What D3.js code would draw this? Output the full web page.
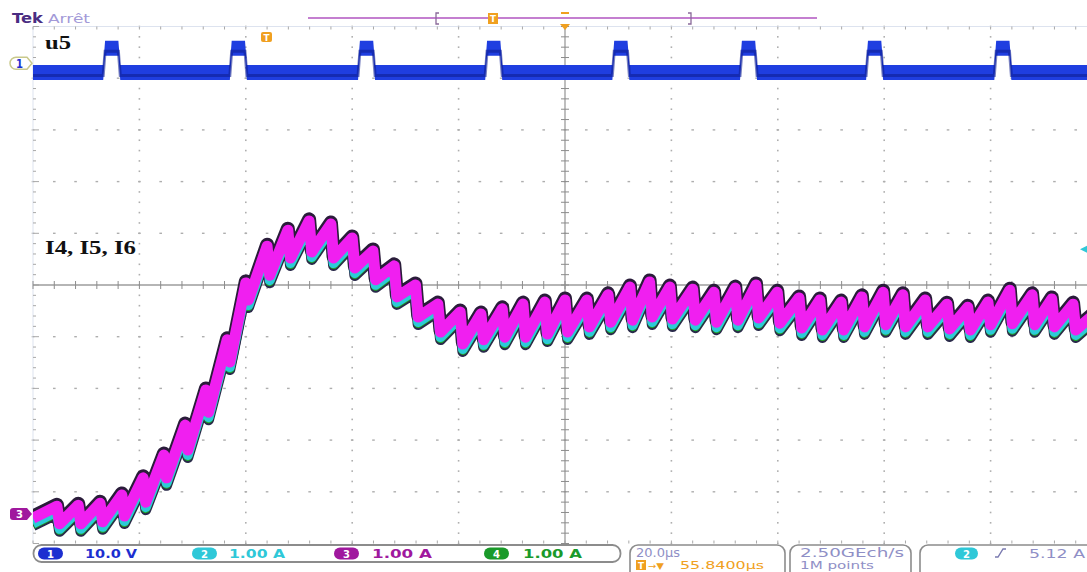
<!DOCTYPE html>
<html>
<head>
<meta charset="utf-8">
<script src="https://cdn.jsdelivr.net/npm/d3@7"></script>
<style>
html, body { margin: 0; padding: 0; background: #fff; overflow: hidden; }
</style>
</head>
<body>
<svg id="scope" width="1087" height="572"></svg>
<script>
// time axis, µs from the left edge of the screen (20 µs/div)
const timeTicks = [0, 20, 40, 60, 80, 100, 120, 140, 160, 180, 200]

// u5 (channel 1, 10 V/div): rising edges and widths of the pulses, µs
const pulseStart = [13.2, 37.0, 61.1, 85.0, 108.9, 132.9, 156.6, 180.7]
const pulseWidth = [3.2, 3.2, 3.2, 3.2, 3.2, 3.2, 3.2, 3.2]
const u5Levels = [-1.8, 2.9]   // low, high in V

// I4, I5, I6 (1 A/div): instant of each drop, value just before and just after
const toothT = [4.5, 8.5, 12.6, 16.7, 20.7, 24.6, 28.6, 32.5, 36.5, 40.0,
    44.0, 47.9, 51.9, 56.0, 60.0, 63.9, 67.9, 71.9, 76.1, 80.3,
    84.2, 88.2, 92.1, 96.2, 100.0, 104.1, 108.1, 112.2, 115.9, 119.7,
    124.0, 128.0, 132.0, 135.9, 139.9, 144.0, 147.9, 151.9, 155.8, 159.8,
    163.5, 167.7, 171.8, 175.7, 179.5, 183.6, 187.8, 191.5, 195.5]
const peakA = [0.15, 0.17, 0.21, 0.37, 0.70, 1.14, 1.72, 2.40, 3.37, 4.47,
    5.18, 5.49, 5.67, 5.61, 5.34, 5.09, 4.80, 4.43, 4.06, 3.91,
    3.87, 3.97, 4.06, 4.10, 4.14, 4.14, 4.24, 4.39, 4.49, 4.39,
    4.35, 4.29, 4.37, 4.43, 4.29, 4.18, 4.14, 4.10, 4.20, 4.29,
    4.24, 4.14, 4.06, 4.00, 4.10, 4.33, 4.24, 4.16, 4.06]
const troughA = [-0.19, -0.19, -0.15, -0.04, 0.23, 0.70, 1.24, 1.97, 2.94, 4.14,
    4.62, 4.95, 5.07, 4.95, 4.76, 4.53, 4.20, 3.81, 3.52, 3.29,
    3.37, 3.42, 3.42, 3.48, 3.52, 3.62, 3.71, 3.75, 3.81, 3.77,
    3.75, 3.71, 3.75, 3.79, 3.69, 3.60, 3.56, 3.56, 3.62, 3.66,
    3.62, 3.62, 3.58, 3.56, 3.66, 3.68, 3.66, 3.62, 3.56]
const iEnds = [-0.08, 3.91]    // value at t = 0 and t = 200

// readouts
const chanIds = ['1', '2', '3', '4']
const chanScale = ['10.0 V', '1.00 A', '1.00 A', '1.00 A']
const timeBase = '20.0\u00b5s'
const trigDelay = '55.8400\u00b5s'
const sampleRate = '2.50GEch/s'
const recordLen = '1M points'
const trigLevel = '5.12 A'

const chanColor = ['#1c2fd0', '#2fc8d8', '#a0189e', '#1a9a2a']

const svg = d3.select('#scope')

const x = d3.scaleLinear().domain([0, 200]).range([33, 1097])
const yDiv = d3.scaleLinear().domain([-5, 5]).range([543.5, 26.5])
const yU = v => yDiv(4.29 + v / 10)      // ch1 ground 4.29 div up
const yI = a => yDiv(-4.43 + a / 1.0)    // ch2..4 ground 4.43 div down

const label = (g, str, px, py, size, fill, len, o = {}) => g.append('text')
    .text(str)
    .attr('x', px)
    .attr('y', py)
    .attr('font-size', size)
    .attr('fill', fill)
    .attr('font-family', o.family || 'DejaVu Sans')
    .attr('font-weight', o.weight || 'normal')
    .attr('textLength', len)
    .attr('lengthAdjust', 'spacingAndGlyphs')

svg.append('defs').append('clipPath').attr('id', 'screen')
    .append('rect').attr('x', 33).attr('y', 20).attr('width', 1054).attr('height', 530)

//graticule
const grid = svg.append('g').attr('class', 'grid')
const minorT = d3.range(0, 200.01, 4)
const minorV = d3.range(-5, 5.001, 0.2)

timeTicks.slice(1, -1).filter(t => t !== 100).forEach(t => {
    grid.selectAll(null).data(minorV).enter().append('rect')
        .attr('x', x(t) - 0.8).attr('y', d => yDiv(d) - 0.8)
        .attr('width', 1.6).attr('height', 1.6).attr('fill', '#aeaeae')
})
d3.range(-4, 5).filter(v => v !== 0).forEach(v => {
    grid.selectAll(null).data(minorT).enter().append('rect')
        .attr('x', d => x(d) - 1.3).attr('y', yDiv(v) - 0.7)
        .attr('width', 2.6).attr('height', 1.4).attr('fill', '#aeaeae')
})
// screen edges
grid.append('line').attr('x1', 33).attr('x2', 33).attr('y1', yDiv(5)).attr('y2', yDiv(-5))
    .attr('stroke', '#dde3ef').attr('stroke-width', 1)
grid.append('line').attr('x1', 33).attr('x2', 1087).attr('y1', yDiv(5)).attr('y2', yDiv(5))
    .attr('stroke', '#dde3ef').attr('stroke-width', 1)
grid.selectAll(null).data(minorV).enter().append('line')
    .attr('x1', 33).attr('x2', d => (Math.abs(d % 1) < 0.01 ? 39 : 36))
    .attr('y1', d => yDiv(d)).attr('y2', d => yDiv(d))
    .attr('stroke', '#a8a8a8').attr('stroke-width', 1)
grid.selectAll(null).data(minorT).enter().append('line')
    .attr('x1', d => x(d)).attr('x2', d => x(d))
    .attr('y1', yDiv(5)).attr('y2', yDiv(5) + 3)
    .attr('stroke', '#a8a8a8').attr('stroke-width', 1)
grid.selectAll(null).data(minorT).enter().append('line')
    .attr('x1', d => x(d)).attr('x2', d => x(d))
    .attr('y1', yDiv(-5)).attr('y2', yDiv(-5) - 3)
    .attr('stroke', '#a8a8a8').attr('stroke-width', 1)
// centre cross
grid.append('line').attr('x1', 33).attr('x2', 1087).attr('y1', yDiv(0)).attr('y2', yDiv(0))
    .attr('stroke', '#9c9c9c').attr('stroke-width', 1.3)
grid.append('line').attr('x1', x(100)).attr('x2', x(100)).attr('y1', yDiv(5)).attr('y2', yDiv(-5))
    .attr('stroke', '#9c9c9c').attr('stroke-width', 1.3)
grid.selectAll(null).data(minorT).enter().append('line')
    .attr('x1', d => x(d)).attr('x2', d => x(d))
    .attr('y1', yDiv(0) - 4).attr('y2', yDiv(0) + 4)
    .attr('stroke', '#8c8c8c').attr('stroke-width', 1)
grid.selectAll(null).data(minorV).enter().append('line')
    .attr('x1', x(100) - 4).attr('x2', x(100) + 4)
    .attr('y1', d => yDiv(d)).attr('y2', d => yDiv(d))
    .attr('stroke', '#8c8c8c').attr('stroke-width', 1)

//traces
const traces = svg.append('g').attr('clip-path', 'url(#screen)')

// u5
const uPts = [[0, u5Levels[0]]]
pulseStart.forEach((s, i) => {
    uPts.push([s, u5Levels[0]], [s + 0.35, u5Levels[1]],
        [s + pulseWidth[i] - 0.35, u5Levels[1]], [s + pulseWidth[i], u5Levels[0]])
})
uPts.push([200, u5Levels[0]])
traces.append('path')
    .attr('d', d3.area().x(d => x(d[0])).y0(d => yU(d[1]) + 7.5).y1(d => yU(d[1]) - 7.5)(uPts))
    .attr('fill', '#1f3ee0')
traces.append('path')
    .attr('d', d3.line().x(d => x(d[0])).y(d => yU(d[1]) + 3)(uPts))
    .attr('fill', 'none').attr('stroke', '#0d1b8c').attr('stroke-width', 3).attr('opacity', 0.55)

// I4, I5, I6
const iPts = [[0, iEnds[0]]]
toothT.forEach((t, i) => {
    iPts.push([t, peakA[i]], [t + 0.5, troughA[i]])
})
iPts.push([200, iEnds[1]])
const iLine = d3.line().x(d => x(d[0])).y(d => yI(d[1]))
const layers = [
    {color: '#2a1c3a', w: 14, dy: -1.5},
    {color: '#2a2a4a', w: 11, dy: 7.5},
    {color: '#1fa52a', w: 9, dy: 6.5},
    {color: '#2ccad8', w: 10, dy: 5},
    {color: '#f01ff0', w: 11, dy: 0}
]
layers.forEach(l => {
    traces.append('path')
        .attr('d', iLine(iPts))
        .attr('transform', `translate(0,${l.dy})`)
        .attr('fill', 'none')
        .attr('stroke', l.color)
        .attr('stroke-width', l.w)
        .attr('stroke-linejoin', 'round')
})

//trace labels
label(svg, 'u5', 45, 49, 18, '#111', 26, {family: 'Liberation Serif', weight: 'bold'})
label(svg, 'I4, I5, I6', 45, 254, 18, '#111', 91, {family: 'Liberation Serif', weight: 'bold'})

//channel markers
const m1 = svg.append('g').attr('transform', `translate(11,${yU(0)})`)
m1.append('path').attr('d', 'M5,-6 H16 L21,0 L16,6 H5 A6,6 0 0 1 5,-6 Z')
    .attr('fill', '#fff').attr('stroke', '#c9c98c').attr('stroke-width', 1.5)
label(m1, '1', 5, 4.5, 12, chanColor[0], 7, {weight: 'bold'})
const m3 = svg.append('g').attr('transform', `translate(10,${yI(0)})`)
m3.append('path').attr('d', 'M3,-6 H17 L22,0 L17,6 H3 A3,3 0 0 1 0,3 V-3 A3,3 0 0 1 3,-6 Z')
    .attr('fill', chanColor[2])
label(m3, '3', 6, 4, 10, '#fff', 7, {weight: 'bold'})
// trigger level (ch2)
svg.append('path')
    .attr('transform', `translate(1080,${yI(5.12)})`)
    .attr('d', 'M0,0 L8,-4 L8,4 Z').attr('fill', chanColor[1])
// orange trigger point in record
const tMark = svg.append('g').attr('transform', 'translate(261,32)')
tMark.append('rect').attr('width', 11).attr('height', 10).attr('rx', 2).attr('fill', '#f0a020')
label(tMark, 'T', 2.5, 8.5, 9, '#fff', 6, {weight: 'bold'})

//top bar
label(svg, 'Tek', 12, 23, 14, '#4a2d82', 31, {weight: 'bold'})
label(svg, 'Arr\u00eat', 48, 23, 13, '#a39ad8', 42)
svg.append('line').attr('x1', 308).attr('x2', 817).attr('y1', 18).attr('y2', 18)
    .attr('stroke', '#c47fd0').attr('stroke-width', 2)
svg.append('path').attr('d', 'M439,13 H436 V24 H439').attr('fill', 'none')
    .attr('stroke', '#8a6a9a').attr('stroke-width', 1.3)
svg.append('path').attr('d', 'M688,13 H691 V24 H688').attr('fill', 'none')
    .attr('stroke', '#8a6a9a').attr('stroke-width', 1.3)
svg.append('rect').attr('x', 488).attr('y', 13).attr('width', 10).attr('height', 11)
    .attr('fill', '#f0a020')
label(svg, 'T', 490, 22, 9, '#fff', 6, {weight: 'bold'})
svg.append('rect').attr('x', 561).attr('y', 12).attr('width', 8).attr('height', 2).attr('fill', '#f0a020')
svg.append('path').attr('d', `M${x(100) - 5},24 H${x(100) + 5} L${x(100)},30 Z`).attr('fill', '#f0a020')

//status bar
const bar = svg.append('g')
bar.append('rect').attr('x', 33.5).attr('y', 545).attr('width', 587).attr('height', 17)
    .attr('rx', 8).attr('fill', 'none').attr('stroke', '#8c8c8c').attr('stroke-width', 1.8)
const pillX = [38, 192, 334, 484]
const valX = [85, 229, 372, 523]
const valW = [52, 56, 60, 59]
chanIds.forEach((c, i) => {
    bar.append('rect').attr('x', pillX[i]).attr('y', 547.5).attr('width', 25).attr('height', 12)
        .attr('rx', 6).attr('fill', chanColor[i])
    label(bar, c, pillX[i] + 9, 557.5, 10, '#fff', 7, {weight: 'bold'})
    label(bar, chanScale[i], valX[i], 558, 12, chanColor[i], valW[i], {weight: 'bold'})
})

bar.append('rect').attr('x', 630).attr('y', 545).attr('width', 155).attr('height', 40)
    .attr('rx', 8).attr('fill', 'none').attr('stroke', '#8c8c8c').attr('stroke-width', 1.6)
label(bar, timeBase, 636, 557, 12, '#8f8fc6', 44)
bar.append('rect').attr('x', 636).attr('y', 560).attr('width', 10).attr('height', 10).attr('fill', '#f0a020')
label(bar, 'T', 638, 568.5, 9, '#fff', 6, {weight: 'bold'})
label(bar, '\u2192\u25bc', 648, 569, 9, '#f0a020', 16)
label(bar, trigDelay, 680, 569, 11, '#f0a020', 84)

bar.append('rect').attr('x', 790).attr('y', 545).attr('width', 121).attr('height', 40)
    .attr('rx', 8).attr('fill', 'none').attr('stroke', '#8c8c8c').attr('stroke-width', 1.6)
label(bar, sampleRate, 800, 557, 12, '#8f8fc6', 104)
label(bar, recordLen, 800, 569, 11, '#8f8fc6', 74)

bar.append('rect').attr('x', 920).attr('y', 545).attr('width', 200).attr('height', 40)
    .attr('rx', 8).attr('fill', 'none').attr('stroke', '#8c8c8c').attr('stroke-width', 1.6)
bar.append('rect').attr('x', 955).attr('y', 547.5).attr('width', 23).attr('height', 12)
    .attr('rx', 6).attr('fill', chanColor[1])
label(bar, '2', 963, 557.5, 10, '#fff', 7, {weight: 'bold'})
bar.append('path').attr('d', 'M995,557 H998 L1003,549 H1006').attr('fill', 'none')
    .attr('stroke', '#7a7ab0').attr('stroke-width', 1.4)
label(bar, trigLevel, 1029, 558, 12, '#8f8fc6', 56)
</script>
</body>
</html>
